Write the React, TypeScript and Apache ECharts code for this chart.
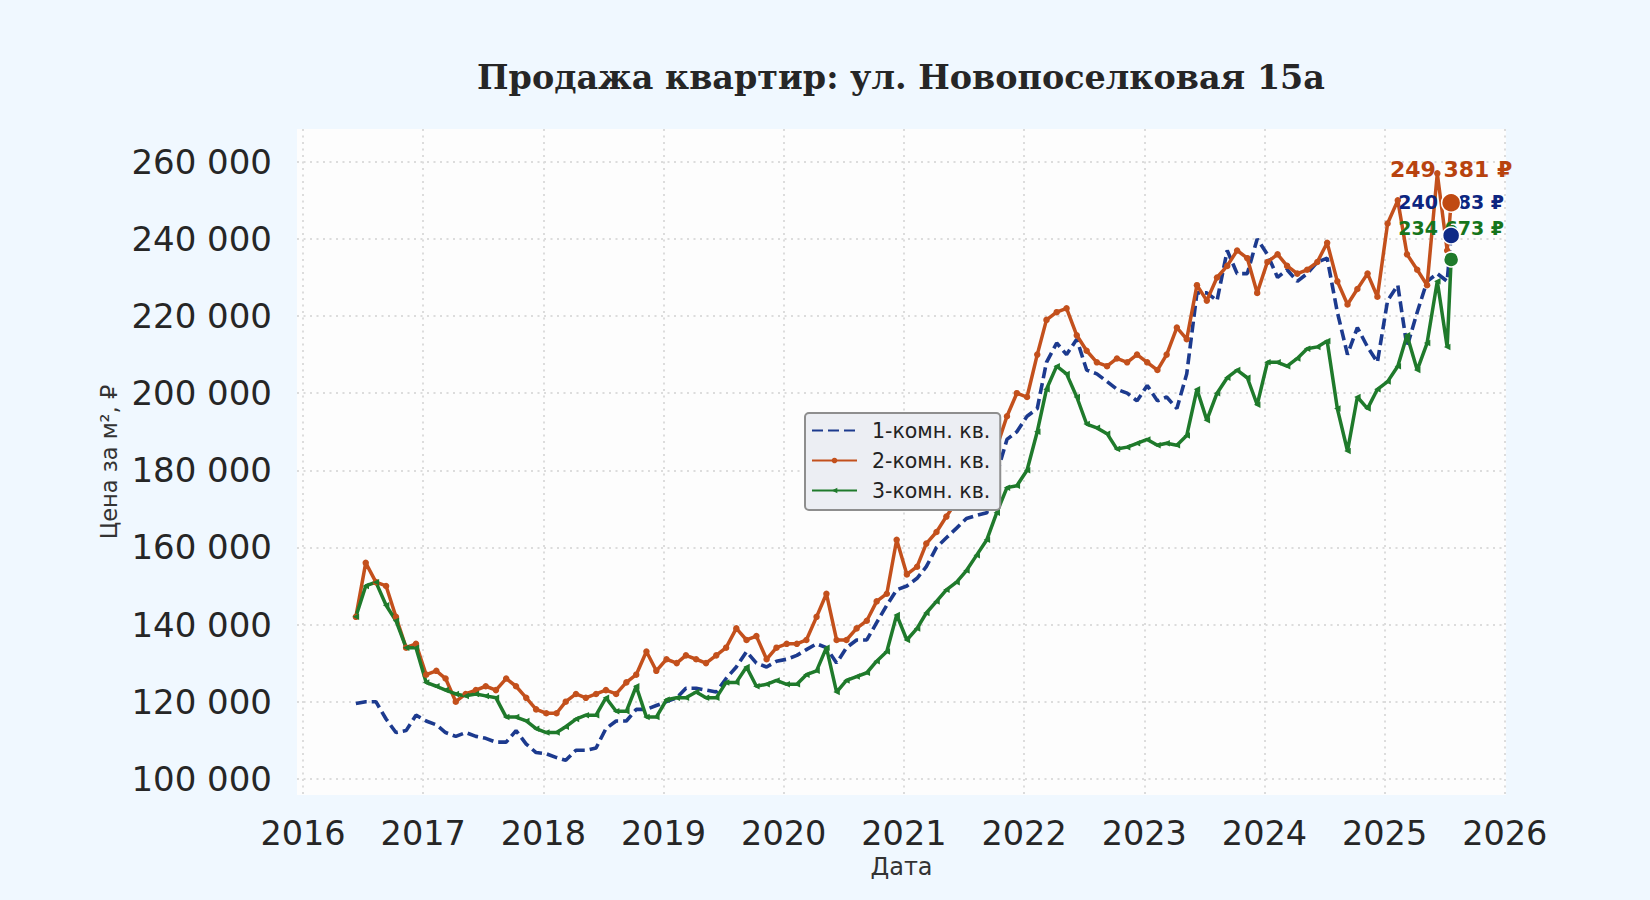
import React, { useEffect, useRef } from 'react';
import * as echarts from 'echarts';

// monthly readings (thousand ₽ per m²), from June 2016 to July 2025
const room1 = [
  119.5, 120, 120, 115.5, 112, 112.5, 116.5,
  115, 114, 112, 111, 112, 111, 110.5, 109.5, 109.5, 112.5, 109, 106.8,
  106.5, 105.5, 104.8, 107.4, 107.4, 108, 113, 115, 115, 118, 118, 119,
  120, 121, 123.5, 123.5, 123, 122.5, 126, 129, 133, 130, 129, 130.5,
  131, 132, 133.5, 135, 134, 130, 134, 136, 136, 140.5, 145, 149,
  150, 152, 155, 160, 162.5, 165, 167.5, 168.3, 169, 179, 188, 190,
  194, 196, 208, 213, 210, 214, 206, 205, 203, 201, 200, 198,
  202, 198, 199, 196, 205, 226, 226, 224, 237, 231, 231, 240,
  236, 230, 232, 229, 231, 234, 235, 221, 210, 217, 212, 208,
  224, 228, 212, 221, 229, 231, 229,
];
const room2 = [
  142, 156, 151, 150, 142, 134, 135,
  127, 128, 126, 120, 122, 123, 124, 123, 126, 124, 121, 118,
  117, 117, 120, 122, 121, 122, 123, 122, 125, 127, 133, 128,
  131, 130, 132, 131, 130, 132, 134, 139, 136, 137, 131, 134,
  135, 135, 136, 142, 148, 136, 136, 139, 141, 146, 148, 162,
  153, 155, 161, 164, 168, 172, 175, 178, 180, 186, 194, 200,
  199, 210, 219, 221, 222, 215, 211, 208, 207, 209, 208, 210,
  208, 206, 210, 217, 214, 228, 224, 230, 233, 237, 235, 226,
  234, 236, 233, 231, 232, 234, 239, 229, 223, 227, 231, 225,
  244, 250, 236, 232, 228, 257, 237,
];
const room3 = [
  142, 150, 151, 145, 141, 134, 134,
  125, 124, 123, 122, 121.5, 122, 121.5, 121, 116, 116, 115, 113,
  112, 112, 113.5, 115.5, 116.5, 116.5, 121, 117.5, 117.5, 124, 116, 116,
  120.5, 121, 121, 122.5, 121, 121, 125, 125, 129, 124, 124.5, 125.5,
  124.5, 124.5, 127, 128, 134, 122.5, 125.5, 126.5, 127.5, 130.5, 133, 142.5,
  136, 139, 143, 146, 149, 151, 154, 158, 162, 169, 175.5, 176,
  180, 190, 201, 207, 205, 199, 192, 191, 189.5, 185.5, 186, 187,
  188, 186.5, 187, 186.5, 189, 201, 193, 200, 204, 206, 204, 197,
  208, 208, 207, 209, 211.5, 212, 213.5, 196, 185, 199, 196, 201,
  203, 207, 215, 206, 213, 229, 212,
];

// latest values, shown with the big dots
const last1 = 240883;
const last2 = 249381;
const last3 = 234673;

const seriesNames = ['1-комн. кв.', '2-комн. кв.', '3-комн. кв.'];
const yearTicks = [2016, 2017, 2018, 2019, 2020, 2021, 2022, 2023, 2024, 2025, 2026];
const priceTicks = [100000, 120000, 140000, 160000, 180000, 200000, 220000, 240000, 260000];

const BLUE = '#1c3a8e';
const ORANGE = '#c3501c';
const GREEN = '#1f7a2b';

// date -> fractional year, so the x axis can be a plain value axis
const yearFrac = (y: number, m: number, d: number) => {
  const t0 = new Date(y, 0, 1).getTime();
  const t1 = new Date(y + 1, 0, 1).getTime();
  return y + (new Date(y, m, d).getTime() - t0) / (t1 - t0);
};
const monthX = (i: number) => {
  const m = 5 + i;
  return yearFrac(2016 + Math.floor(m / 12), m % 12, 10);
};
const endX = yearFrac(2025, 6, 22);
const toPoints = (vals: number[], last: number) => [
  ...vals.map((v, i) => [monthX(i), v * 1000]),
  [endX, last],
];

const spaced = (v: number) => String(Math.round(v)).replace(/\B(?=(\d{3})+(?!\d))/g, ' ');

const gridLine = { show: true, lineStyle: { color: '#dcdcdc', type: [2, 4.5], width: 2 } };

const endDot = (color: string, labelColor: string, value: number, size: number, fontSize: number, distance: number, z: number) => ({
  type: 'scatter',
  z,
  data: [[endX, value]],
  symbolSize: size,
  itemStyle: { color, borderColor: '#ffffff', borderWidth: 1.5, opacity: 1 },
  label: {
    show: true,
    position: 'top',
    distance,
    formatter: () => spaced(value) + ' ₽',
    color: labelColor,
    fontSize,
    fontWeight: 'bold',
    fontFamily: 'DejaVu Sans',
  },
  silent: true,
});

const App: React.FC = () => {
  const chartRef = useRef<HTMLDivElement>(null);

  useEffect(() => {
    if (!chartRef.current) return;
    const chart = echarts.init(chartRef.current, undefined, { renderer: 'svg' });

    const option: any = {
      animation: false,
      backgroundColor: '#f0f8ff',
      textStyle: { fontFamily: 'DejaVu Sans' },
      graphic: [
        {
          type: 'text',
          x: 901,
          y: 77,
          style: {
            text: 'Продажа квартир: ул. Новопоселковая 15а',
            align: 'center',
            verticalAlign: 'middle',
            font: 'bold 33.4px "DejaVu Serif"',
            fill: '#262626',
          },
        },
      ],
      grid: {
        left: 297,
        right: 144,
        top: 129,
        bottom: 105,
        show: true,
        backgroundColor: '#fdfdfd',
        borderWidth: 0,
      },
      legend: {
        // the dashed series has no markers, so its legend marker is hidden
        data: [
          { name: seriesNames[0], itemStyle: { opacity: 0 } },
          { name: seriesNames[1] },
          { name: seriesNames[2] },
        ],
        orient: 'vertical',
        left: 805,
        top: 413,
        backgroundColor: '#eceef3',
        borderColor: '#8e8e8e',
        borderWidth: 2,
        borderRadius: 4,
        padding: [7, 10, 9, 6],
        itemGap: 9,
        itemWidth: 45,
        itemHeight: 7,
        textStyle: { fontSize: 20.5, color: '#222222', fontFamily: 'DejaVu Sans', padding: [0, 0, 0, 10] },
      },
      xAxis: {
        type: 'value',
        min: 2015.95,
        max: 2026.01,
        name: 'Дата',
        nameLocation: 'middle',
        nameGap: 60,
        nameTextStyle: { fontSize: 24, color: '#333333', fontFamily: 'DejaVu Sans' },
        axisLine: { show: false },
        axisTick: { show: false, customValues: yearTicks },
        axisLabel: {
          customValues: yearTicks,
          formatter: (v: number) => String(Math.round(v)),
          fontSize: 33.5,
          color: '#262626',
          margin: 21,
          fontFamily: 'DejaVu Sans',
        },
        splitLine: gridLine,
      },
      yAxis: {
        type: 'value',
        min: 95800,
        max: 268500,
        name: 'Цена за м², ₽',
        nameLocation: 'middle',
        nameGap: 176,
        nameTextStyle: { fontSize: 22.5, color: '#333333', fontFamily: 'DejaVu Sans' },
        axisLine: { show: false },
        axisTick: { show: false, customValues: priceTicks },
        axisLabel: {
          customValues: priceTicks,
          formatter: (v: number) => spaced(v),
          fontSize: 34,
          color: '#262626',
          margin: 25,
          fontFamily: 'DejaVu Sans',
        },
        splitLine: gridLine,
      },
      series: [
        {
          name: seriesNames[0],
          type: 'line',
          data: toPoints(room1, last1),
          symbol: 'none',
          lineStyle: { color: BLUE, width: 3.6, type: [11, 5] },
          itemStyle: { color: BLUE },
        },
        {
          name: seriesNames[1],
          type: 'line',
          data: toPoints(room2, last2),
          symbol: 'circle',
          symbolSize: 6.5,
          showAllSymbol: true,
          lineStyle: { color: ORANGE, width: 3.5 },
          itemStyle: { color: ORANGE },
        },
        {
          name: seriesNames[2],
          type: 'line',
          data: toPoints(room3, last3),
          symbol: 'triangle',
          symbolRotate: 90,
          symbolSize: 6.5,
          showAllSymbol: true,
          lineStyle: { color: GREEN, width: 3.5 },
          itemStyle: { color: GREEN },
        },
        endDot(GREEN, '#16751c', last3, 15, 19, 14, 10),
        endDot('#0f2a86', '#0d2580', last1, 17, 19, 15, 11),
        endDot('#c04a12', '#b8430f', last2, 19, 22, 12, 12),
      ],
    };

    chart.setOption(option);
    return () => chart.dispose();
  }, []);

  return (
    <div
      ref={chartRef}
      style={{ position: 'absolute', left: 0, top: 0, width: 1650, height: 900 }}
    />
  );
};

export default App;
